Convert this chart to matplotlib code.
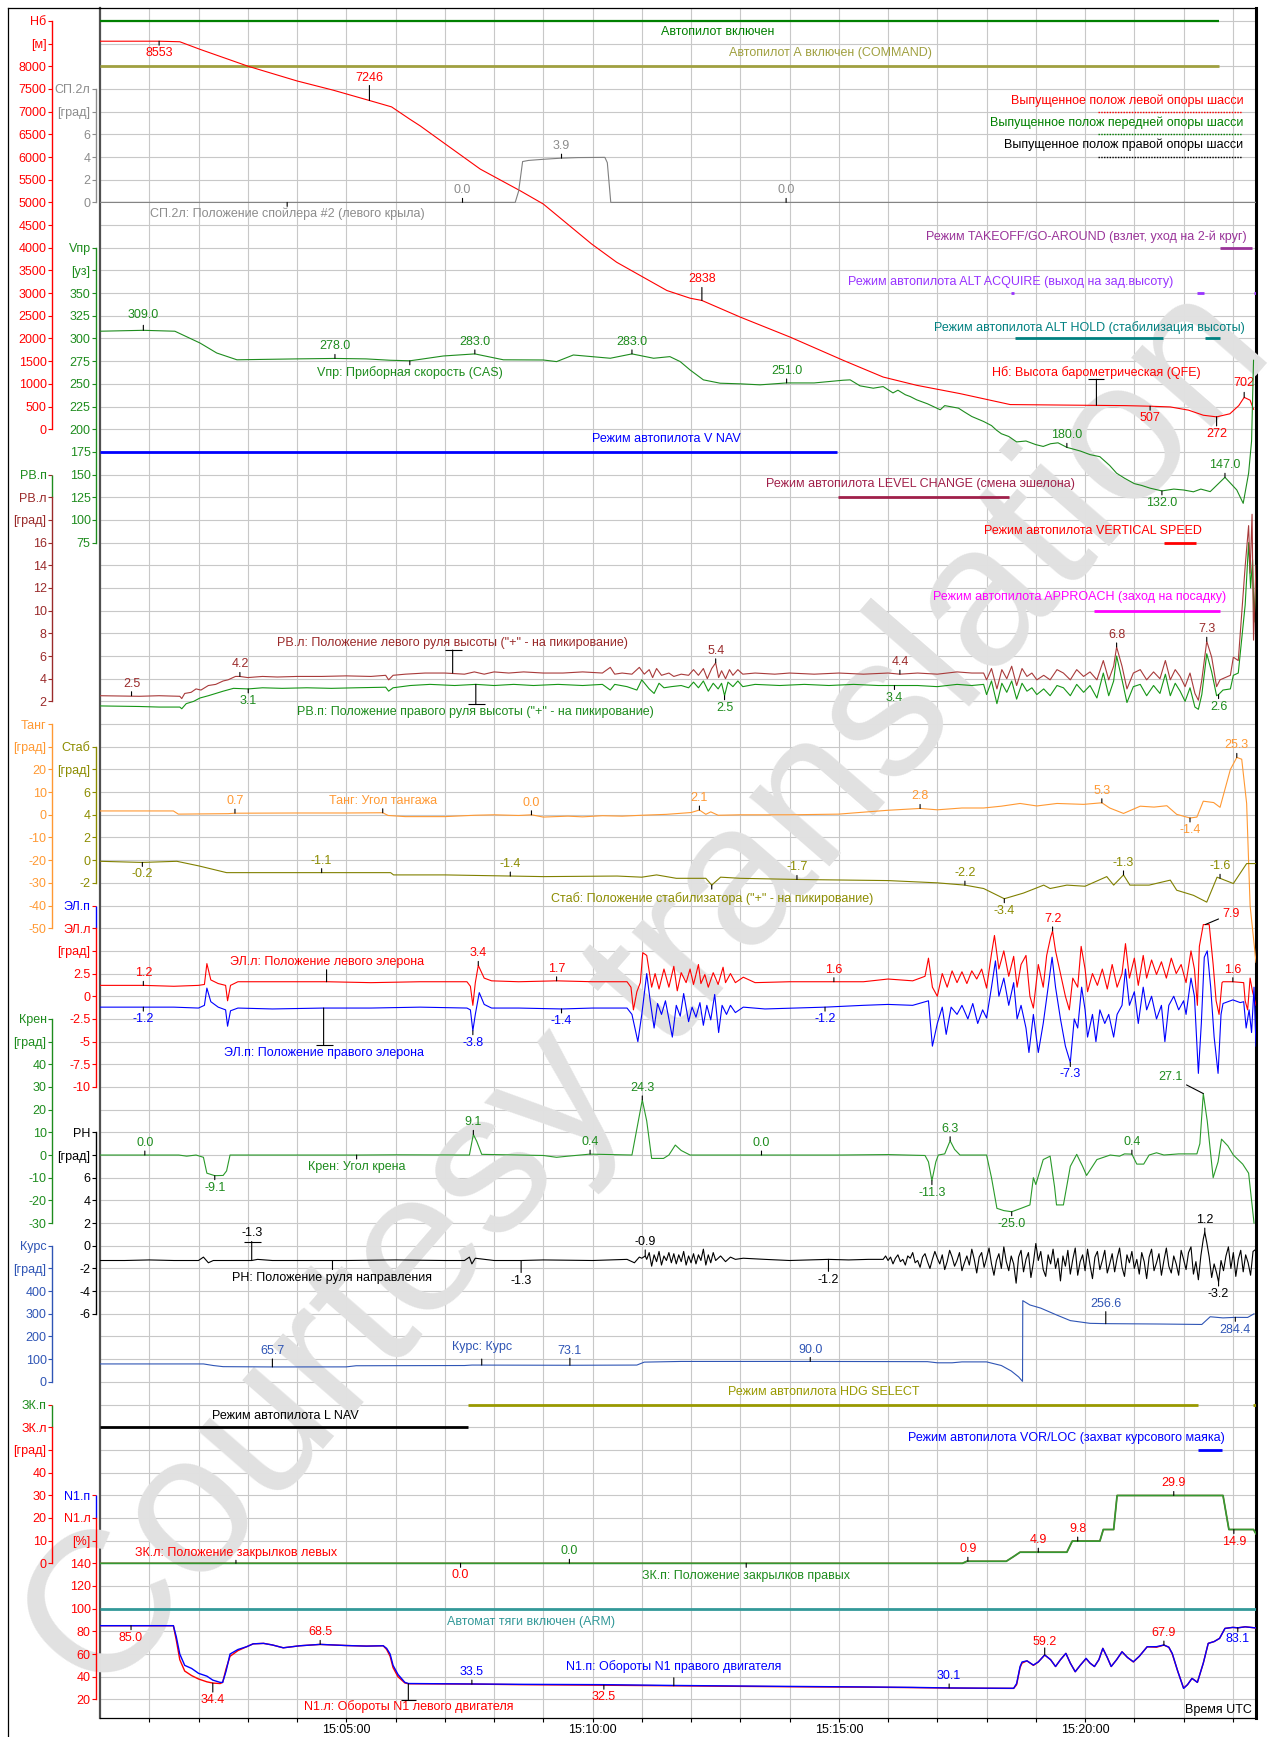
import matplotlib
matplotlib.use("Agg")
import matplotlib.pyplot as plt
from matplotlib import transforms
from matplotlib.lines import Line2D

plt.rcParams["font.family"] = ["Liberation Sans", "DejaVu Sans"]
plt.rcParams["font.size"] = 9

W, H = 1270, 1737
PX = 0.72                      # points per pixel at dpi 100
T_END = 23.47                  # minutes after 15:00:00
G_BOT, G_TOP = -0.82, 74.57    # chart rows, one row per grid step

# ---------------- data: (minutes after 15:00, value) -----------------
alt = [(0, 8553), (1.2, 8553), (1.62, 8541), (2.03, 8374), (3.01, 8000), (4.0, 7677), (4.74, 7472),
       (5.47, 7246), (5.92, 7105), (6.29, 6834), (6.5, 6687), (6.97, 6319), (7.72, 5734), (8.53, 5257),
       (9.0, 4964), (9.98, 4084), (10.49, 3680), (11.03, 3350), (11.51, 3057), (11.98, 2888), (12.22, 2838),
       (13.0, 2471), (14.01, 2031), (15.09, 1518), (15.9, 1150), (16.58, 968), (17.46, 785), (18.48, 543),
       (19.97, 528), (20.8, 520), (21.32, 507), (21.73, 491), (22.1, 420), (22.4, 308), (22.67, 272),
       (22.94, 340), (23.12, 520), (23.23, 702), (23.35, 640), (23.42, 440)]

spoiler = [(0, 0), (8.43, 0), (8.5, 1.0), (8.58, 3.6), (8.7, 3.7), (9.0, 3.8), (9.37, 3.9), (9.7, 3.95),
           (10.25, 3.97), (10.3, 3.5), (10.37, 0), (23.47, 0)]

cas = [(0, 308), (0.88, 309), (1.52, 308), (2.03, 295), (2.37, 284), (2.78, 276.5), (3.38, 277), (4.0, 277.5),
       (4.77, 278), (5.4, 277.5), (5.89, 276), (6.29, 275.4), (6.5, 277), (6.97, 280.7), (7.61, 283),
       (8.19, 276.5), (9.0, 276.3), (9.27, 274.5), (9.61, 281.8), (10.36, 278.2), (10.8, 283), (11.24, 278.2),
       (11.57, 280), (11.78, 274.5), (11.98, 265.3), (12.25, 254.4), (12.59, 250.7), (13.0, 250),
       (13.4, 248.9), (13.94, 251), (14.5, 251), (15.09, 254), (15.23, 254.4), (15.43, 247.8), (15.7, 245.2),
       (15.9, 247), (16.1, 240), (16.2, 243), (16.35, 238), (16.45, 236), (16.58, 232.4), (16.8, 228),
       (17.06, 221.4), (17.15, 226), (17.25, 225), (17.43, 223.2), (17.55, 219), (17.7, 214), (17.94, 208.5),
       (18.1, 204), (18.2, 199), (18.3, 195), (18.45, 192), (18.61, 186), (18.8, 187), (19.0, 183),
       (19.15, 181), (19.3, 184), (19.45, 185), (19.63, 180), (19.9, 176), (20.1, 172), (20.3, 169.7),
       (20.5, 160), (20.64, 151.5), (20.8, 146), (21.0, 140), (21.15, 138), (21.32, 135), (21.56, 132),
       (21.8, 134), (22.0, 133), (22.2, 131), (22.35, 134), (22.54, 131.2), (22.84, 147), (23.08, 133),
       (23.21, 118.3), (23.32, 151.5), (23.38, 186.8), (23.42, 276)]

elev_l = [(0, 2.5), (0.8, 2.45), (1.2, 2.5), (1.62, 2.45), (1.66, 2.25), (1.72, 2.7), (1.85, 2.8), (1.95, 3.1),
          (2.05, 3.0), (2.2, 3.4), (2.35, 3.5), (2.5, 3.8), (2.6, 3.9), (2.75, 4.2), (2.84, 4.2), (3.0, 4.1),
          (3.3, 4.2), (3.6, 4.15), (4.0, 4.2), (4.5, 4.2), (5.0, 4.25), (5.5, 4.2), (5.8, 4.3), (5.86, 3.9),
          (5.95, 4.3), (6.2, 4.4), (6.6, 4.5), (7.0, 4.5), (7.4, 4.4), (7.6, 4.6), (7.8, 4.4), (8.0, 4.6),
          (8.3, 4.5), (8.6, 4.6), (9.0, 4.5), (9.4, 4.5), (9.8, 4.6), (10.2, 4.5), (10.36, 5.0), (10.45, 4.4),
          (10.6, 4.5), (10.8, 4.4), (10.95, 5.0), (11.05, 4.4), (11.15, 4.8), (11.22, 4.1), (11.3, 4.9),
          (11.4, 4.3), (11.55, 4.5), (11.65, 4.2), (11.8, 4.4), (11.95, 4.3), (12.05, 4.8), (12.15, 4.3),
          (12.25, 4.9), (12.33, 4.0), (12.42, 4.9), (12.5, 5.4), (12.56, 4.1), (12.62, 4.7), (12.7, 4.0),
          (12.78, 4.8), (12.85, 4.3), (12.95, 4.8), (13.05, 4.4), (13.3, 4.5), (13.7, 4.4), (14.0, 4.5),
          (14.5, 4.4), (15.0, 4.5), (15.5, 4.4), (16.0, 4.5), (16.24, 4.4), (16.6, 4.5), (17.0, 4.4),
          (17.4, 4.6), (17.7, 4.5), (17.94, 4.5), (18.0, 3.9), (18.1, 4.9), (18.21, 3.1), (18.31, 4.8),
          (18.41, 4.0), (18.51, 5.1), (18.61, 3.4), (18.72, 4.9), (18.82, 4.2), (18.92, 4.5), (19.02, 3.9),
          (19.16, 4.3), (19.29, 3.9), (19.43, 4.8), (19.56, 4.5), (19.7, 3.9), (19.83, 4.8), (19.97, 4.2),
          (20.1, 4.6), (20.24, 3.9), (20.37, 5.6), (20.48, 3.9), (20.58, 5.1), (20.64, 6.8), (20.75, 5.1),
          (20.85, 3.1), (20.98, 4.5), (21.12, 4.8), (21.25, 3.9), (21.39, 4.6), (21.52, 4.0), (21.63, 5.6),
          (21.73, 3.9), (21.83, 4.8), (21.93, 4.2), (22.03, 3.3), (22.13, 4.5), (22.23, 2.7), (22.3, 2.1),
          (22.37, 3.9), (22.47, 7.3), (22.57, 5.9), (22.67, 3.3), (22.74, 3.9), (22.95, 4.3), (23.01, 5.9),
          (23.11, 5.6), (23.18, 9.8), (23.25, 13.9), (23.32, 17.5), (23.35, 13.3), (23.39, 18.5),
          (23.42, 7.4), (23.47, 14.0)]

elev_r = [(0, 1.6), (0.8, 1.55), (1.2, 1.5), (1.62, 1.5), (1.66, 1.35), (1.75, 1.8), (1.9, 2.0), (2.03, 2.3),
          (2.2, 2.5), (2.35, 2.7), (2.5, 2.9), (2.71, 3.15), (3.01, 3.1), (3.3, 3.2), (3.7, 3.15), (4.2, 3.2),
          (4.7, 3.15), (5.2, 3.2), (5.8, 3.25), (5.86, 2.9), (5.95, 3.2), (6.3, 3.4), (6.7, 3.5), (7.2, 3.4),
          (7.63, 3.5), (8.0, 3.4), (8.4, 3.5), (8.8, 3.4), (9.3, 3.5), (9.8, 3.4), (10.2, 3.5), (10.36, 3.0),
          (10.45, 3.5), (10.7, 3.3), (10.9, 3.0), (11.0, 3.9), (11.15, 3.1), (11.25, 2.7), (11.35, 3.6),
          (11.45, 3.2), (11.6, 3.3), (11.8, 3.4), (11.95, 3.2), (12.05, 3.7), (12.15, 3.2), (12.25, 3.8),
          (12.35, 2.9), (12.45, 3.6), (12.55, 3.1), (12.62, 3.6), (12.68, 2.5), (12.75, 3.7), (12.85, 3.3),
          (12.95, 3.8), (13.05, 3.3), (13.3, 3.5), (13.8, 3.4), (14.3, 3.5), (14.8, 3.4), (15.3, 3.5),
          (15.8, 3.4), (16.13, 3.4), (16.6, 3.4), (17.0, 3.3), (17.4, 3.5), (17.7, 3.4), (17.94, 3.5),
          (18.0, 2.6), (18.1, 3.8), (18.21, 1.8), (18.31, 3.6), (18.41, 2.8), (18.51, 3.8), (18.61, 2.2),
          (18.72, 3.6), (18.82, 2.9), (18.92, 3.2), (19.02, 2.6), (19.16, 3.1), (19.29, 2.5), (19.43, 3.4),
          (19.56, 3.2), (19.7, 2.5), (19.83, 3.5), (19.97, 2.8), (20.1, 3.4), (20.24, 2.3), (20.37, 4.5),
          (20.48, 2.5), (20.58, 3.8), (20.64, 6.0), (20.75, 3.9), (20.85, 1.9), (20.98, 3.3), (21.12, 3.5),
          (21.25, 2.5), (21.39, 3.4), (21.52, 2.7), (21.63, 4.4), (21.73, 2.5), (21.83, 3.6), (21.93, 2.9),
          (22.03, 2.0), (22.13, 3.2), (22.23, 1.5), (22.3, 1.3), (22.37, 2.6), (22.47, 6.2), (22.57, 4.6),
          (22.67, 2.5), (22.71, 2.6), (22.8, 3.0), (22.95, 3.1), (23.01, 4.3), (23.11, 4.5), (23.18, 7.5),
          (23.25, 10.5), (23.32, 16.0), (23.36, 12.0), (23.4, 14.5), (23.43, 9.0), (23.47, 12.5)]

pitch = [(0, 1.7), (1.49, 1.7), (1.59, 0.3), (2.6, 0.5), (2.74, 0.7), (4.0, 0.8), (5.0, 0.8), (5.74, 0.9),
         (5.85, -0.3), (6.2, -0.8), (7.0, -0.8), (7.61, -0.2), (8.0, 0.0), (8.5, -0.3), (8.76, 0.0), (9.0, -1.0),
         (9.5, -0.6), (9.8, -0.9), (10.2, -0.4), (10.6, -0.6), (11.0, -0.2), (11.5, 0.2), (12.0, 1.0),
         (12.17, 2.1), (12.3, 0.2), (12.4, 1.3), (12.55, -0.2), (13.0, 0.0), (14.0, 0.0), (15.0, 0.3),
         (15.23, 0.7), (16.0, 2.0), (16.65, 2.8), (17.0, 2.2), (17.5, 3.0), (17.94, 3.0), (18.3, 3.8),
         (18.68, 5.0), (19.02, 3.9), (19.43, 5.0), (19.97, 4.6), (20.34, 5.3), (20.5, 3.0), (20.78, 0.6),
         (21.12, 3.8), (21.4, 3.4), (21.66, 4.0), (21.86, 0.2), (22.13, -1.4), (22.27, -1.0), (22.4, 6.0),
         (22.61, 5.4), (22.74, 3.3), (22.95, 20.0), (23.08, 25.3), (23.18, 24.5), (23.28, 5.0),
         (23.35, -40.0), (23.47, -65.0)]

stab = [(0, -0.1), (0.86, -0.2), (1.56, -0.1), (2.0, -0.5), (2.57, -1.1), (4.5, -1.1), (5.9, -1.1),
        (5.96, -1.3), (7.0, -1.3), (8.33, -1.4), (9.0, -1.45), (10.5, -1.4), (11.0, -1.5), (11.3, -1.3),
        (11.7, -1.6), (12.3, -1.6), (12.42, -2.2), (12.6, -1.5), (13.0, -1.6), (14.15, -1.7), (15.23, -1.76),
        (16.0, -1.8), (17.0, -2.0), (17.56, -2.2), (17.94, -2.5), (18.36, -3.4), (18.75, -2.9), (19.16, -2.2),
        (19.29, -2.5), (19.63, -2.2), (20.0, -2.3), (20.44, -1.45), (20.58, -2.2), (20.78, -1.3),
        (20.91, -2.2), (21.3, -2.2), (21.73, -1.76), (21.86, -2.65), (22.2, -3.1), (22.47, -3.7),
        (22.68, -1.5), (22.74, -1.6), (23.01, -2.06), (23.28, -0.3), (23.47, -0.3)]

ail_l = [(0, 1.2), (0.88, 1.2), (1.5, 1.1), (2.0, 1.2), (2.12, 1.3), (2.17, 3.6), (2.25, 1.8), (2.4, 1.4),
         (2.55, 1.2), (2.59, -0.5), (2.65, 1.2), (2.8, 1.6), (3.5, 1.6), (4.6, 1.6), (5.5, 1.5), (6.5, 1.6),
         (7.45, 1.6), (7.52, 1.1), (7.57, -1.0), (7.62, 1.5), (7.68, 3.4), (7.8, 2.0), (7.95, 1.7), (8.5, 1.6),
         (9.27, 1.7), (10.0, 1.6), (10.7, 1.6), (10.78, 1.0), (10.83, -1.5), (10.9, 0.5), (10.97, 1.5),
         (11.02, 4.8), (11.1, 4.5), (11.2, 1.0), (11.27, 2.5), (11.35, 0.8), (11.45, 3.0), (11.55, 1.0),
         (11.65, 3.3), (11.72, 0.6), (11.8, 2.6), (11.9, 1.5), (11.98, 3.0), (12.05, 1.3), (12.15, 3.5),
         (12.2, 1.4), (12.28, 2.4), (12.35, 1.0), (12.45, 2.6), (12.55, 1.3), (12.65, 3.2), (12.7, 1.5),
         (12.8, 2.5), (12.9, 1.5), (13.06, 2.1), (13.3, 1.5), (14.0, 1.6), (14.9, 1.6), (15.5, 1.6),
         (16.0, 1.9), (16.5, 1.7), (16.75, 2.2), (16.82, 4.2), (16.9, 1.0), (17.0, 0.0), (17.1, 2.5),
         (17.2, 1.0), (17.3, 2.8), (17.4, 1.5), (17.5, 2.7), (17.6, 1.4), (17.7, 2.8), (17.8, 1.9), (17.9, 3.0),
         (18.0, 0.9), (18.1, 4.7), (18.16, 6.7), (18.25, 3.0), (18.35, 5.0), (18.45, 2.2), (18.55, 4.4),
         (18.62, 1.0), (18.7, 3.5), (18.8, 4.5), (18.88, 0.0), (18.95, -1.3), (19.05, 3.5), (19.15, 1.0),
         (19.22, 4.5), (19.3, 6.5), (19.34, 7.2), (19.4, 5.0), (19.5, 2.5), (19.6, 0.0), (19.68, -1.5),
         (19.75, 2.0), (19.85, 1.0), (19.92, 5.5), (20.0, 3.0), (20.05, 0.5), (20.15, 2.5), (20.25, 1.2),
         (20.35, 3.0), (20.45, 0.8), (20.55, 3.5), (20.65, 1.0), (20.75, 2.5), (20.82, 5.8), (20.9, 2.0),
         (21.0, 4.2), (21.08, 1.2), (21.18, 4.5), (21.25, 2.0), (21.35, 4.0), (21.45, 2.4), (21.55, 3.8),
         (21.65, 2.0), (21.75, 4.2), (21.85, 2.5), (21.95, 3.5), (22.05, 1.5), (22.15, 5.0), (22.22, 3.0),
         (22.28, -1.0), (22.32, 5.5), (22.4, 7.9), (22.52, 7.9), (22.6, 3.5), (22.66, -0.5), (22.72, -2.0),
         (22.78, 1.5), (22.8, 1.6), (23.0, 1.6), (23.22, 1.5), (23.25, -0.5), (23.3, -1.5), (23.35, 2.0),
         (23.4, 0.5), (23.47, -1.0)]

ail_r = [(0, -1.2), (0.88, -1.2), (1.5, -1.2), (2.0, -1.3), (2.12, -1.0), (2.17, 0.9), (2.25, -0.6),
         (2.4, -1.2), (2.55, -1.5), (2.59, -3.3), (2.65, -1.6), (2.8, -1.3), (3.5, -1.4), (4.54, -1.3),
         (5.5, -1.3), (6.5, -1.2), (7.45, -1.3), (7.52, -1.5), (7.57, -3.8), (7.62, -2.0), (7.7, 0.4),
         (7.8, -0.9), (7.95, -1.3), (8.5, -1.3), (9.37, -1.4), (10.0, -1.3), (10.7, -1.3), (10.8, -2.0),
         (10.92, -5.0), (11.0, -2.0), (11.1, 2.5), (11.17, -0.5), (11.25, -3.5), (11.32, -0.8), (11.4, -2.0),
         (11.48, -0.5), (11.55, -2.5), (11.62, -4.5), (11.7, -1.0), (11.78, -2.2), (11.85, 0.3), (11.95, -2.8),
         (12.02, -1.2), (12.1, -2.3), (12.18, -0.7), (12.25, -3.2), (12.32, -1.0), (12.4, -2.6), (12.48, 0.2),
         (12.56, -4.0), (12.63, -1.0), (12.72, -2.0), (12.8, -1.0), (12.9, -1.8), (13.06, -1.2), (13.5, -1.4),
         (14.72, -1.2), (15.5, -1.0), (16.0, -0.9), (16.5, -1.0), (16.75, -0.6), (16.82, -0.5), (16.9, -5.5),
         (17.0, -3.0), (17.1, -1.2), (17.18, -4.2), (17.28, -1.2), (17.4, -2.0), (17.5, -1.0), (17.62, -2.5),
         (17.72, -0.8), (17.82, -3.0), (17.92, -1.5), (18.0, -2.4), (18.1, 1.0), (18.18, 3.9), (18.25, 0.0),
         (18.35, 2.0), (18.45, -1.0), (18.55, 1.5), (18.62, -2.5), (18.7, -1.0), (18.8, -3.5), (18.86, -6.2),
         (18.95, -2.0), (19.05, -6.2), (19.15, -3.0), (19.25, 1.0), (19.33, 4.3), (19.4, 1.0), (19.5, -2.5),
         (19.6, -5.5), (19.7, -7.3), (19.78, -2.5), (19.85, -3.5), (19.93, 1.0), (20.0, -1.5), (20.05, -4.5),
         (20.15, -2.0), (20.22, -5.0), (20.3, -1.5), (20.4, -3.0), (20.48, -2.0), (20.58, -4.5), (20.65, -2.0),
         (20.75, -1.0), (20.82, 3.0), (20.9, -1.0), (21.0, 0.5), (21.08, -3.0), (21.18, 1.0), (21.25, -1.5),
         (21.35, 0.0), (21.45, -2.5), (21.55, -1.0), (21.62, -5.0), (21.7, -1.0), (21.8, 0.0), (21.9, -1.5),
         (22.0, -0.5), (22.05, -2.0), (22.15, 2.0), (22.22, 0.0), (22.3, -8.5), (22.36, -3.0), (22.42, 4.3),
         (22.48, 5.0), (22.55, 1.0), (22.62, -4.5), (22.7, -8.5), (22.76, -2.0), (22.8, -0.8), (23.0, -0.4),
         (23.15, -0.7), (23.22, -0.6), (23.27, -3.5), (23.33, -1.5), (23.38, -4.0), (23.43, 1.0), (23.47, -5.5)]

roll = [(0, 0), (0.91, 0), (1.6, 0), (1.76, -0.5), (1.95, 0), (2.1, -1.0), (2.17, -8.0), (2.33, -9.1),
        (2.5, -9.0), (2.57, -7.0), (2.64, 0), (4.0, 0), (5.21, 0), (6.0, 0.1), (7.5, 0), (7.58, 9.1),
        (7.65, 6.0), (7.75, 0.3), (8.5, 0), (9.0, -0.2), (9.27, -1.0), (9.5, -0.5), (9.95, 0.4), (10.8, 0),
        (11.01, 24.3), (11.1, 15.0), (11.2, -1.5), (11.44, -1.5), (11.55, 0), (11.68, 4.4), (11.8, 2.0),
        (11.98, 0), (13.43, 0), (15.0, 0), (16.0, 0.2), (16.75, -0.2), (16.82, -3.0), (16.89, -11.3),
        (16.97, -3.0), (17.02, 0), (17.15, 0.5), (17.26, 6.3), (17.35, 2.5), (17.46, 0), (18.0, 0),
        (18.1, -10.0), (18.21, -23.5), (18.35, -24.5), (18.51, -25.0), (18.7, -23.5), (18.88, -22.0),
        (18.95, -10.0), (19.0, -13.0), (19.15, -2.0), (19.29, -0.5), (19.38, -14.0), (19.42, -22.0),
        (19.56, -22.0), (19.7, -5.0), (19.83, 0.3), (19.95, -5.0), (20.03, -9.0), (20.24, -2.0), (20.51, 0),
        (20.7, -0.5), (20.8, 0.5), (20.95, 0.4), (21.05, -4.0), (21.19, -4.0), (21.3, 0), (21.45, 1.0),
        (21.6, 0), (21.9, 0.5), (22.27, 0.5), (22.33, 5.0), (22.4, 27.1), (22.48, 15.0), (22.6, -10.0),
        (22.7, -3.0), (22.77, 7.0), (22.9, 4.0), (23.01, 0), (23.2, -4.0), (23.32, -8.0), (23.43, -30.0)]

rudder = [(0, -1.3), (0.5, -1.3), (1.0, -1.25), (1.5, -1.3), (2.0, -1.3), (2.1, -1.0), (2.2, -1.5),
          (2.3, -1.3), (2.8, -1.3), (3.08, -1.3), (3.2, -1.2), (3.5, -1.3), (4.0, -1.3), (4.72, -1.3),
          (5.0, -1.3), (6.0, -1.25), (7.0, -1.3), (7.4, -1.3), (7.5, -1.0), (7.55, -1.6), (7.62, -1.1),
          (8.0, -1.3), (8.55, -1.3), (9.0, -1.25), (10.0, -1.3), (10.7, -1.2), (10.85, -1.5), (10.95, -1.0),
          (11.0, -1.1), (11.07, -0.9), (11.1, -1.2), (11.15, -0.6), (11.2, -1.8), (11.25, -0.8), (11.3, -1.4),
          (11.35, -0.5), (11.4, -1.7), (11.45, -0.9), (11.5, -1.3), (11.55, -0.6), (11.6, -1.5), (11.65, -0.7),
          (11.7, -1.6), (11.75, -0.8), (11.8, -1.4), (11.85, -0.5), (11.9, -1.7), (11.95, -0.9), (12.0, -1.5),
          (12.05, -0.7), (12.1, -1.6), (12.15, -0.8), (12.2, -1.3), (12.25, -0.3), (12.3, -1.7), (12.35, -0.8),
          (12.4, -1.5), (12.45, -0.6), (12.5, -1.3), (12.6, -0.9), (12.7, -1.4), (12.8, -1.0), (12.9, -1.2),
          (13.06, -1.1), (13.5, -1.2), (14.0, -1.3), (14.79, -1.2), (15.2, -1.25), (15.6, -1.2),
          (15.90, -1.2), (15.95, -0.9), (16.00, -1.3), (16.05, -1.0), (16.10, -1.6), (16.15, -1.1),
          (16.20, -0.8), (16.25, -1.4), (16.30, -1.2), (16.35, -1.7), (16.40, -0.9), (16.45, -1.1),
          (16.50, -0.6), (16.55, -1.5), (16.60, -1.3), (16.65, -1.9), (16.70, -1.0), (16.75, -0.7),
          (16.80, -1.4), (16.85, -2.0), (16.90, -1.2), (16.95, -0.5), (17.00, -1.1), (17.05, -1.6),
          (17.10, -0.8), (17.15, -2.1), (17.20, -1.4), (17.25, -0.4), (17.30, -1.0), (17.35, -1.8),
          (17.40, -1.3), (17.45, -0.6), (17.50, -2.2), (17.55, -1.5), (17.60, -0.9), (17.65, -1.7),
          (17.70, -0.3), (17.75, -1.2), (17.80, -2.4), (17.85, -1.0), (17.90, -0.6), (17.95, -1.9),
          (18.00, -1.1), (18.05, -0.2), (18.10, -1.6), (18.15, -2.6), (18.20, -1.3), (18.25, -0.7),
          (18.30, -2.0), (18.35, -0.1), (18.40, -1.4), (18.45, -2.2), (18.50, -0.9), (18.55, -1.6),
          (18.60, -3.3), (18.65, -1.0), (18.70, -0.4), (18.75, -2.3), (18.80, -1.2), (18.85, -0.6),
          (18.90, -2.8), (18.95, -1.5), (19.00, 0.2), (19.05, -1.3), (19.10, -0.5), (19.15, -2.1),
          (19.20, -2.7), (19.25, -0.8), (19.30, -1.6), (19.35, -0.3), (19.40, -2.0), (19.45, -1.1),
          (19.50, -3.1), (19.55, -0.9), (19.60, -1.8), (19.65, -0.4), (19.70, -2.5), (19.75, -1.2),
          (19.80, -0.2), (19.85, -2.6), (19.90, -1.4), (19.95, -0.8), (20.00, -2.2), (20.05, -0.3),
          (20.10, -1.7), (20.15, -2.9), (20.20, -1.0), (20.25, -0.5), (20.30, -2.1), (20.35, -1.3),
          (20.40, -0.4), (20.45, -2.4), (20.50, -1.6), (20.55, -0.7), (20.60, -2.3), (20.65, -1.1),
          (20.70, -0.2), (20.75, -1.9), (20.80, -2.7), (20.85, -0.8), (20.90, -1.5), (20.95, -0.5),
          (21.00, -2.0), (21.05, -1.2), (21.10, -2.5), (21.15, -0.6), (21.20, -1.4), (21.25, -2.9),
          (21.30, -1.0), (21.35, -0.3), (21.40, -2.2), (21.45, -1.5), (21.50, -0.7), (21.55, -2.6),
          (21.60, -1.3), (21.65, -0.2), (21.70, -1.8), (21.75, -2.4), (21.80, -0.9), (21.85, -1.6),
          (21.90, -2.6), (21.95, -0.4), (22.00, -1.2), (22.05, -2.1), (22.10, -0.6), (22.15, -0.1),
          (22.20, -2.5), (22.25, -1.4), (22.30, -3.0), (22.35, -0.9), (22.40, 0.6), (22.43, 1.2),
          (22.47, 0.3), (22.52, -1.0), (22.57, -2.8), (22.62, -1.6), (22.67, -2.4), (22.71, -3.2),
          (22.76, -1.3), (22.81, -2.2), (22.86, -0.9), (22.91, -0.1), (22.96, -2.0), (23.01, -0.6),
          (23.06, -2.7), (23.11, -1.2), (23.16, -0.4), (23.21, -2.3), (23.26, -0.8), (23.31, -1.5),
          (23.36, -2.6), (23.41, -0.5), (23.47, -0.3)]

heading = [(0, 79), (2.1, 79), (2.3, 72), (2.5, 67), (3.5, 65.7), (5.0, 66), (5.2, 71), (7.4, 72), (7.55, 74),
           (9.54, 73.1), (10.9, 74), (11.05, 87), (11.3, 88), (11.8, 90), (14.42, 90), (16.8, 89), (17.0, 84),
           (17.3, 84), (17.5, 88), (18.0, 88), (18.3, 72), (18.5, 48), (18.65, 22), (18.73, 2), (18.735, 358),
           (18.88, 339), (19.1, 325), (19.42, 295), (19.7, 270), (20.1, 258), (20.42, 256.6), (21.5, 255),
           (22.37, 253), (22.54, 287), (22.8, 282), (23.05, 284.4), (23.3, 284), (23.43, 300)]

flaps = [(0, 0), (17.51, 0), (17.6, 0.9), (18.4, 0.9), (18.55, 3.0), (18.68, 4.9), (19.63, 4.9), (19.74, 9.8),
         (20.3, 9.8), (20.37, 14.9), (20.58, 14.9), (20.65, 29.9), (22.8, 29.9), (22.92, 14.9), (23.42, 14.9),
         (23.47, 13.0)]

n1_l = [(0, 85), (1.49, 85), (1.55, 72), (1.62, 55), (1.72, 45), (1.86, 41), (2.0, 38), (2.17, 35.5),
        (2.29, 34.4), (2.44, 34), (2.49, 35), (2.56, 47), (2.64, 58), (2.8, 63), (2.98, 66.5), (3.11, 69),
        (3.32, 69.4), (3.5, 68), (3.72, 65.5), (4.06, 67.3), (4.47, 68.5), (5.0, 67.5), (5.41, 67), (5.75, 67.3),
        (5.82, 64), (5.89, 58), (5.95, 48), (6.05, 40), (6.19, 34.5), (6.26, 33.8), (7.55, 33.5), (8.5, 33),
        (10.23, 32.5), (11.65, 32), (13.0, 31.5), (14.5, 31), (15.5, 30.8), (16.5, 30.4), (17.24, 30.0),
        (18.0, 29.8), (18.55, 29.7), (18.61, 33), (18.68, 48), (18.72, 52), (18.82, 54), (18.95, 50),
        (19.05, 53), (19.18, 59.2), (19.3, 55), (19.4, 49), (19.5, 55), (19.61, 60.6), (19.7, 52), (19.8, 44.4),
        (19.9, 50), (20.02, 56), (20.1, 52), (20.19, 49), (20.28, 55), (20.36, 65), (20.45, 57), (20.53, 49),
        (20.64, 55), (20.75, 62), (20.86, 57), (20.98, 53), (21.1, 58), (21.26, 66.4), (21.45, 66), (21.6, 67.9),
        (21.7, 66), (21.77, 60), (21.88, 45), (22.0, 30), (22.08, 33), (22.17, 38.5), (22.22, 37), (22.28, 35),
        (22.4, 52), (22.5, 69.4), (22.62, 71), (22.73, 73.8), (22.84, 82.6), (23.0, 83.5), (23.1, 83.1),
        (23.25, 84), (23.47, 83)]

n1_r = [(0, 85), (1.49, 85), (1.55, 75), (1.62, 60), (1.72, 50), (1.86, 47.3), (2.0, 43), (2.17, 40.5),
        (2.29, 37), (2.44, 35), (2.49, 35), (2.56, 45), (2.64, 60), (2.8, 64), (2.98, 66.5), (3.11, 69),
        (3.32, 69.4), (3.5, 68), (3.72, 65.5), (4.06, 67.3), (4.47, 68.5), (5.0, 67.5), (5.41, 67), (5.75, 67.3),
        (5.82, 65), (5.89, 60), (5.95, 50), (6.05, 42), (6.19, 35), (6.26, 34), (7.55, 33.6), (8.5, 33.3),
        (10.23, 33), (11.65, 32.3), (13.0, 31.8), (14.5, 31.3), (15.5, 31), (16.5, 30.6), (17.24, 30.1),
        (18.0, 29.9), (18.55, 29.8), (18.61, 34), (18.68, 49), (18.72, 53), (18.82, 54), (18.95, 50.3),
        (19.05, 53), (19.18, 59.2), (19.3, 55), (19.4, 49), (19.5, 55), (19.61, 60.6), (19.7, 52), (19.8, 44.4),
        (19.9, 50), (20.02, 56.2), (20.1, 52), (20.19, 49), (20.28, 55), (20.36, 65), (20.45, 57), (20.53, 49),
        (20.64, 55), (20.75, 62), (20.86, 57), (20.98, 53.2), (21.1, 58), (21.26, 66.4), (21.45, 66.5),
        (21.6, 68), (21.7, 66), (21.77, 60.6), (21.88, 45), (22.0, 29.7), (22.08, 33), (22.17, 38.5),
        (22.22, 37), (22.28, 35), (22.4, 52), (22.5, 69.4), (22.62, 71), (22.73, 73.8), (22.84, 82.6),
        (23.0, 83.5), (23.1, 83.1), (23.25, 84), (23.47, 83)]

# discrete mode flags: time segments (minutes)
ap_on = [(0, 22.72)]
ap_cmd = [(0, 22.72)]
gear = [(20.26, 23.18)]
toga = [(22.73, 23.38)]
alt_acq = [(18.5, 18.56), (22.27, 22.41), (23.43, 23.47)]
alt_hold = [(18.57, 21.59), (22.44, 22.73)]
vnav = [(0, 14.96)]
lvl_chg = [(14.98, 18.46)]
vs_mode = [(21.6, 22.25)]
app = [(20.19, 22.73)]
hdg_sel = [(7.47, 22.3), (23.41, 23.47)]
lnav = [(0, 7.47)]
vorloc = [(22.3, 22.78)]
at_arm = [(0, 23.47)]

time_ticks = list(range(1, 24))

RED, GRN, DRED, ORG = "#FF0000", "#1E8C1E", "#9A2A2A", "#FF9933"
OLV, GRY, BLU, HBL = "#8C8C00", "#8C8C8C", "#0000FF", "#2F55B5"

# ---------------- figure ----------------------------------------------
fig = plt.figure(figsize=(W / 100, H / 100), dpi=100)
X0, X1, Y0, Y1 = 100, 1256, 8, 1718
ax = fig.add_axes([X0 / W, 1 - Y1 / H, (X1 - X0) / W, (Y1 - Y0) / H])
ax.set_xlim(0, T_END)
ax.set_ylim(G_BOT, G_TOP)
ax.set_yticks(range(0, 75))
ax.tick_params(axis="y", length=0, labelleft=False)
ax.set_xticks(time_ticks, ["15:%02d:00" % m if m % 5 == 0 else "" for m in time_ticks])
ax.tick_params(axis="x", length=4 * PX, width=0.8, pad=1.5, labelsize=9)
ax.grid(True, color="#C8C8C8", lw=0.8)
ax.set_axisbelow(True)
ax.spines["left"].set_color("#505050")
ax.spines["left"].set_linewidth(1.6)
ax.spines["right"].set_linewidth(2.2)
for s in ("top", "bottom"):
    ax.spines[s].set_linewidth(0.9)

# outer frame of the page
fig.add_artist(Line2D([8 / W, 8 / W], [0, 1 - 8 / H], color="black", lw=0.9, zorder=2))
fig.add_artist(Line2D([8 / W, X0 / W], [1 - 8 / H, 1 - 8 / H], color="black", lw=0.9, zorder=2))

fig.text(650 / W, 1 - 995 / H, "Courtesy translation", rotation=49, fontsize=145, color="#E1E1E1",
         ha="center", va="center", rotation_mode="anchor", zorder=0.5, family="Liberation Sans")

# overlay for mode flags (in chart rows)
fl = ax.twinx()
fl.set_zorder(1)
fl.set_ylim(G_BOT, G_TOP)
fl.axis("off")


def flag(row, segs, color, lw=1.6, ls="-"):
    for a0, a1 in segs:
        fl.plot([a0, a1], [row, row], color=color, lw=lw, ls=ls, solid_capstyle="butt")


def ftext(t, row, txt, color, ha="center"):
    fl.text(t, row, txt, color=color, ha=ha, va="center", fontsize=9)


flag(74, ap_on, "#008000")
ftext(12.54, 73.5, "Автопилот включен", "#008000")
flag(72, ap_cmd, "#A0A040", lw=2.0)
ftext(14.83, 72.57, "Автопилот А включен (COMMAND)", "#A0A040")
flag(70, gear, RED, lw=1.0, ls=(0, (1, 1)))
flag(69, gear, "#008000", lw=1.0, ls=(0, (1, 1)))
flag(68, gear, "black", lw=1.0, ls=(0, (1, 1)))
ftext(23.21, 70.5, "Выпущенное полож левой опоры шасси", RED, "right")
ftext(23.21, 69.53, "Выпущенное полож передней опоры шасси", "#008000", "right")
ftext(23.21, 68.56, "Выпущенное полож правой опоры шасси", "black", "right")
flag(64, toga, "#993399", lw=2.0)
ftext(23.28, 64.49, "Режим TAKEOFF/GO-AROUND (взлет, уход на 2-й круг)", "#993399", "right")
flag(62, alt_acq, "#9933FF", lw=2.0)
ftext(21.79, 62.5, "Режим автопилота ALT ACQUIRE (выход на зад.высоту)", "#9933FF", "right")
flag(60, alt_hold, "#008080", lw=2.0)
ftext(23.25, 60.48, "Режим автопилота ALT HOLD (стабилизация высоты)", "#008080", "right")
flag(55, vnav, BLU, lw=2.0)
ftext(11.49, 55.59, "Режим автопилота V NAV", BLU)
flag(53, lvl_chg, "#A0204A", lw=2.0)
ftext(19.8, 53.58, "Режим автопилота LEVEL CHANGE (смена эшелона)", "#A0204A", "right")
flag(51, vs_mode, RED, lw=2.0)
ftext(22.37, 51.52, "Режим автопилота VERTICAL SPEED", RED, "right")
flag(48, app, "#FF00FF", lw=2.0)
ftext(22.86, 48.59, "Режим автопилота APPROACH (заход на посадку)", "#FF00FF", "right")
flag(13, hdg_sel, "#999900", lw=2.0)
ftext(14.69, 13.54, "Режим автопилота HDG SELECT", "#999900")
flag(12, lnav, "black", lw=2.0)
ftext(3.77, 12.5, "Режим автопилота L NAV", "black")
flag(11, vorloc, BLU, lw=2.0)
ftext(22.84, 11.51, "Режим автопилота VOR/LOC (захват курсового маяка)", BLU, "right")
flag(4, at_arm, "#339999", lw=2.0)
ftext(8.76, 3.42, "Автомат тяги включен (ARM)", "#339999")
ftext(23.39, -0.47, "Время UTC", "black", "right")

OUT, INN = -48 / (X1 - X0), -4 / (X1 - X0)


def param_axis(col, g0, v0, step, ticks, head, color):
    a = ax.twinx()
    a.set_zorder(1)
    a.set_ylim(v0 + (G_BOT - g0) * step, v0 + (G_TOP - g0) * step)
    a.set_autoscale_on(False)
    a.yaxis.tick_left()
    for s in ("top", "right", "bottom"):
        a.spines[s].set_visible(False)
    sp = a.spines["left"]
    sp.set_visible(True)
    sp.set_position(("axes", col))
    sp.set_color(color)
    sp.set_linewidth(1.0)
    top = max(ticks)
    hpos = [top + step * (len(head) - i) for i in range(len(head))]
    a.set_yticks(list(ticks) + hpos, ["%g" % v for v in ticks] + [h[0] for h in head])
    a.tick_params(axis="y", length=4 * PX, width=0.8, pad=1.0, colors=color, labelsize=9)
    cols = [color] * len(ticks) + [h[1] for h in head]
    for lab, c in zip(a.get_yticklabels(), cols):
        lab.set_color(c)
    for tk, c in zip(a.yaxis.get_major_ticks(), cols):
        tk.tick1line.set_color(c)
    k = 0
    while head[k][1] != color:
        k += 1
    sp.set_bounds(min(ticks), hpos[k])
    for i in range(k):
        a.plot([col, col], [hpos[i + 1], hpos[i]], transform=a.get_yaxis_transform(),
               color=head[i][1], lw=1.0, clip_on=False, solid_capstyle="butt")
    return a


def series(a, data, color, lw=0.8):
    a.plot([p[0] for p in data], [p[1] for p in data], color=color, lw=lw)


def mark(a, t, v, txt, color, dy=12, tick=4):
    s = 1 if dy > 0 else -1
    a.annotate("", xy=(t, v), xytext=(0, s * tick * PX), textcoords="offset points",
               arrowprops=dict(arrowstyle="-", color="black", lw=0.8, shrinkA=0, shrinkB=0))
    a.annotate(txt, xy=(t, v), xytext=(0, dy * PX), textcoords="offset points",
               ha="center", va="center", color=color, fontsize=9)


def name(a, t, v, txt, color, dy, lead, cap=0):
    mark(a, t, v, txt, color, dy, lead)
    if cap:
        tr = transforms.offset_copy(a.transData, fig=fig, x=0, y=(1 if dy > 0 else -1) * lead, units="dots")
        a.plot([t], [v], marker="_", ms=cap * PX, mew=0.8, color="black", transform=tr, clip_on=False)


def slant(a, t, v, txt, color, dx, dy):
    a.annotate(txt, xy=(t, v), xytext=(dx * PX, dy * PX), textcoords="offset points",
               ha="center", va="center", color=color, fontsize=9,
               arrowprops=dict(arrowstyle="-", color="black", lw=0.8, shrinkA=1, shrinkB=0))


# --- altitude
a_alt = param_axis(OUT, 56, 0, 500, range(0, 8001, 500), [("Нб", RED), ("[м]", RED)], RED)
series(a_alt, alt, RED)
for m in [(1.2, 8553, "8553", -12, 4), (5.47, 7246, "7246", 22, 15), (12.22, 2838, "2838", 21, 13),
          (21.32, 507, "507", -12, 4), (22.67, 272, "272", -17, 9), (23.23, 702, "702", 14, 5)]:
    mark(a_alt, *m[:3], RED, m[3], m[4])
name(a_alt, 20.23, 528, "Нб: Высота барометрическая (QFE)", RED, 33, 26, 16)

# --- spoiler
a_sp = param_axis(INN, 66, 0, 2, [0, 2, 4, 6], [("СП.2л", GRY), ("[град]", GRY)], GRY)
series(a_sp, spoiler, "#808080")
for m in [(7.36, 0, "0.0"), (9.37, 3.9, "3.9"), (13.93, 0, "0.0")]:
    mark(a_sp, *m, GRY)
name(a_sp, 3.8, 0, "СП.2л: Положение спойлера #2 (левого крыла)", GRY, -11, 4)

# --- airspeed
a_v = param_axis(INN, 55, 175, 25, range(75, 351, 25), [("Vпр", GRN), ("[уз]", GRN)], GRN)
series(a_v, cas, GRN)
for m in [(0.88, 309, "309.0", 15, 5), (4.77, 278, "278.0", 12, 4), (7.61, 283, "283.0", 12, 4),
          (10.8, 283, "283.0", 12, 4), (13.94, 251, "251.0", 12, 4), (19.63, 180, "180.0", 12, 4),
          (21.56, 132, "132.0", -12, 4), (22.84, 147, "147.0", 12, 4)]:
    mark(a_v, *m[:3], GRN, m[3], m[4])
name(a_v, 6.29, 275.4, "Vпр: Приборная скорость (CAS)", GRN, -12, 4)

# --- elevators
a_rv = param_axis(OUT, 44, 2, 2, range(2, 17, 2), [("РВ.п", GRN), ("РВ.л", DRED), ("[град]", DRED)], DRED)
series(a_rv, elev_r, "#169616")
series(a_rv, elev_l, "#A83A3A")
for m in [(0.64, 2.5, "2.5"), (2.84, 4.2, "4.2"), (12.5, 5.4, "5.4"), (16.24, 4.4, "4.4"),
          (20.64, 6.8, "6.8"), (22.47, 7.3, "7.3")]:
    mark(a_rv, *m, DRED)
for m in [(3.01, 3.1, "3.1"), (12.68, 2.5, "2.5"), (16.13, 3.4, "3.4"), (22.71, 2.6, "2.6")]:
    mark(a_rv, *m, GRN, -12)
name(a_rv, 7.16, 4.5, 'РВ.л: Положение левого руля высоты ("+" - на пикирование)', DRED, 30, 23, 17)
name(a_rv, 7.63, 3.5, 'РВ.п: Положение правого руля высоты ("+" - на пикирование)', GRN, -28, 20, 17)

# --- pitch
a_pt = param_axis(OUT, 39, 0, 10, range(-50, 21, 10), [("Танг", ORG), ("[град]", ORG)], ORG)
series(a_pt, pitch, ORG)
for m in [(2.74, 0.7, "0.7", 12), (8.76, 0.0, "0.0", 12), (12.17, 2.1, "2.1", 12), (16.65, 2.8, "2.8", 12),
          (20.34, 5.3, "5.3", 12), (22.13, -1.4, "-1.4", -12), (23.08, 25.3, "25.3", 12)]:
    mark(a_pt, *m[:3], ORG, m[3])
name(a_pt, 5.74, 0.9, "Танг: Угол тангажа", ORG, 12, 4)

# --- stabilizer
a_st = param_axis(INN, 37, 0, 2, range(-2, 7, 2), [("Стаб", OLV), ("[град]", OLV)], OLV)
series(a_st, stab, "#808000")
for m in [(0.86, -0.2, "-0.2", -12), (4.5, -1.1, "-1.1", 12), (8.33, -1.4, "-1.4", 12),
          (14.15, -1.7, "-1.7", 12), (17.56, -2.2, "-2.2", 12), (18.36, -3.4, "-3.4", -12),
          (20.78, -1.3, "-1.3", 12), (22.74, -1.6, "-1.6", 12)]:
    mark(a_st, *m[:3], OLV, m[3])
name(a_st, 12.42, -2.2, 'Стаб: Положение стабилизатора ("+" - на пикирование)', OLV, -13, 4)

# --- ailerons
a_el = param_axis(INN, 31, 0, 2.5, [-10, -7.5, -5, -2.5, 0, 2.5],
                  [("ЭЛ.п", BLU), ("ЭЛ.л", RED), ("[град]", RED)], RED)
series(a_el, ail_l, RED)
series(a_el, ail_r, BLU)
for m in [(0.88, 1.2, "1.2"), (7.68, 3.4, "3.4"), (9.27, 1.7, "1.7"), (14.9, 1.6, "1.6"),
          (19.34, 7.2, "7.2"), (23.0, 1.6, "1.6")]:
    mark(a_el, *m, RED)
for m in [(0.88, -1.2, "-1.2"), (7.57, -3.8, "-3.8"), (9.37, -1.4, "-1.4"), (14.72, -1.2, "-1.2"),
          (19.7, -7.3, "-7.3")]:
    mark(a_el, *m, BLU, -12)
slant(a_el, 22.44, 7.9, "7.9", RED, 26, 11)
name(a_el, 4.6, 1.6, "ЭЛ.л: Положение левого элерона", RED, 20, 12)
name(a_el, 4.54, -1.3, "ЭЛ.п: Положение правого элерона", BLU, -45, 37, 17)

# --- roll
a_kr = param_axis(OUT, 24, 0, 10, range(-30, 41, 10), [("Крен", GRN), ("[град]", GRN)], GRN)
series(a_kr, roll, "#2A9A2A")
for m in [(0.91, 0, "0.0", 12), (2.33, -9.1, "-9.1", -12), (7.58, 9.1, "9.1", 12), (9.95, 0.4, "0.4", 12),
          (11.01, 24.3, "24.3", 12), (13.43, 0, "0.0", 12), (16.89, -11.3, "-11.3", -12),
          (17.26, 6.3, "6.3", 12), (18.51, -25.0, "-25.0", -12), (20.95, 0.4, "0.4", 12)]:
    mark(a_kr, *m[:3], GRN, m[3])
slant(a_kr, 22.4, 27.1, "27.1", GRN, -33, 17)
name(a_kr, 5.21, 0, "Крен: Угол крена", GRN, -12, 4)

# --- rudder
a_rn = param_axis(INN, 20, 0, 2, range(-6, 7, 2), [("РН", "black"), ("[град]", "black")], "black")
series(a_rn, rudder, "black")
name(a_rn, 3.08, -1.3, "-1.3", "black", 28, 19, 17)
for m in [(8.55, -1.3, "-1.3", -20, 12), (11.07, -0.9, "-0.9", 14, 6), (14.79, -1.2, "-1.2", -21, 12),
          (22.43, 1.2, "1.2", 12, 4), (22.71, -3.2, "-3.2", -12, 4)]:
    mark(a_rn, *m[:3], "black", m[3], m[4])
name(a_rn, 4.72, -1.3, "РН: Положение руля направления", "black", -17, 9)

# --- heading
a_hd = param_axis(OUT, 14, 0, 100, range(0, 401, 100), [("Курс", HBL), ("[град]", HBL)], HBL)
series(a_hd, heading, HBL)
for m in [(3.5, 65.7, "65.7", 16, 8), (9.54, 73.1, "73.1", 14, 7), (14.42, 90.0, "90.0", 11, 4),
          (20.42, 256.6, "256.6", 20, 12), (23.05, 284.4, "284.4", -13, 4)]:
    mark(a_hd, *m[:3], HBL, m[3], m[4])
name(a_hd, 7.75, 74, "Курс: Курс", HBL, 18, 6)

# --- flaps
a_zk = param_axis(OUT, 6, 0, 10, range(0, 41, 10), [("ЗК.п", GRN), ("ЗК.л", RED), ("[град]", RED)], RED)
series(a_zk, flaps, RED, lw=0.9)
series(a_zk, flaps, "#339933", lw=1.3)
mark(a_zk, 7.32, 0, "0.0", RED, -12)
mark(a_zk, 9.53, 0, "0.0", GRN, 12)
for m in [(17.62, 0.9, "0.9", 12), (19.05, 4.9, "4.9", 12), (19.85, 9.8, "9.8", 12), (21.8, 29.9, "29.9", 12),
          (23.02, 14.9, "14.9", -12)]:
    mark(a_zk, *m[:3], RED, m[3])
name(a_zk, 2.76, 0, "ЗК.л: Положение закрылков левых", RED, 10.5, 3)
name(a_zk, 13.12, 0, "ЗК.п: Положение закрылков правых", GRN, -13, 4)

# --- engines N1
a_n1 = param_axis(INN, 0, 20, 20, range(20, 141, 20), [("N1.п", BLU), ("N1.л", RED), ("[%]", RED)], RED)
series(a_n1, n1_l, RED, lw=1.0)
series(a_n1, n1_r, BLU, lw=1.0)
for m in [(0.63, 85, "85.0", -12, 4), (2.29, 34.4, "34.4", -17, 9), (4.47, 68.5, "68.5", 12, 4),
          (10.23, 32.5, "32.5", -12, 4), (19.18, 59.2, "59.2", 13, 7), (21.6, 67.9, "67.9", 12, 4)]:
    mark(a_n1, *m[:3], RED, m[3], m[4])
for m in [(7.55, 33.5, "33.5", 12, 4), (17.24, 30.1, "30.1", 12, 4), (23.1, 83.1, "83.1", -11, 4)]:
    mark(a_n1, *m[:3], BLU, m[3], m[4])
name(a_n1, 11.65, 32.0, "N1.п: Обороты N1 правого двигателя", BLU, 19, 8)
name(a_n1, 6.26, 33.8, "N1.л: Обороты N1 левого двигателя", RED, -23, 16, 15)

ax.set_xlim(0, T_END)
fig.savefig("out.png", dpi=100, facecolor="white")
